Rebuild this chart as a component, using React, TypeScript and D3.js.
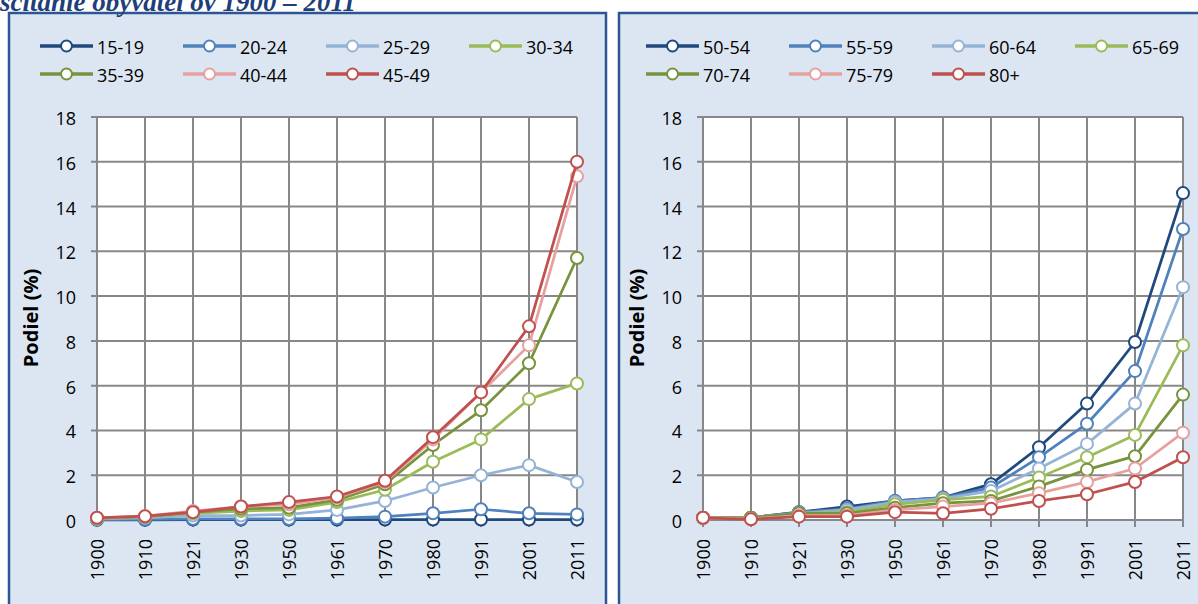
import React from "react";
import * as d3 from "d3";

const years = ["1900", "1910", "1921", "1930", "1950", "1961", "1970", "1980", "1991", "2001", "2011"];
const yTicks = [0, 2, 4, 6, 8, 10, 12, 14, 16, 18];

const leftNames = ["15-19", "20-24", "25-29", "30-34", "35-39", "40-44", "45-49"];
const s15_19 = [0.01, 0.01, 0.02, 0.02, 0.02, 0.02, 0.02, 0.02, 0.02, 0.02, 0.02];
const s20_24 = [0.02, 0.03, 0.05, 0.05, 0.05, 0.08, 0.15, 0.3, 0.48, 0.3, 0.25];
const s25_29 = [0.05, 0.1, 0.2, 0.2, 0.25, 0.45, 0.85, 1.45, 2.0, 2.45, 1.7];
const s30_34 = [0.07, 0.14, 0.3, 0.4, 0.45, 0.8, 1.35, 2.6, 3.6, 5.4, 6.1];
const s35_39 = [0.08, 0.15, 0.35, 0.5, 0.55, 0.9, 1.6, 3.35, 4.9, 7.0, 11.7];
const s40_44 = [0.1, 0.17, 0.4, 0.6, 0.7, 1.0, 1.7, 3.6, 5.7, 7.8, 15.35];
const s45_49 = [0.1, 0.17, 0.35, 0.6, 0.8, 1.05, 1.75, 3.7, 5.7, 8.65, 16.0];

const rightNames = ["50-54", "55-59", "60-64", "65-69", "70-74", "75-79", "80+"];
const s50_54 = [0.1, 0.1, 0.35, 0.6, 0.85, 1.0, 1.6, 3.25, 5.2, 7.95, 14.6];
const s55_59 = [0.1, 0.1, 0.35, 0.5, 0.85, 1.0, 1.45, 2.8, 4.3, 6.65, 13.0];
const s60_64 = [0.1, 0.1, 0.3, 0.45, 0.8, 0.95, 1.3, 2.3, 3.4, 5.2, 10.4];
const s65_69 = [0.1, 0.1, 0.3, 0.35, 0.7, 0.9, 1.05, 1.9, 2.8, 3.8, 7.8];
const s70_74 = [0.1, 0.1, 0.3, 0.3, 0.55, 0.75, 0.85, 1.5, 2.25, 2.85, 5.6];
const s75_79 = [0.1, 0.05, 0.2, 0.2, 0.45, 0.6, 0.75, 1.2, 1.7, 2.3, 3.9];
const s80 = [0.1, 0.03, 0.15, 0.15, 0.35, 0.3, 0.5, 0.85, 1.15, 1.7, 2.8];

const colors = ["#1F497D", "#4F81BD", "#95B3D7", "#9BBB59", "#77933C", "#E6A0A0", "#C0504D"];

const leftSeries = [s15_19, s20_24, s25_29, s30_34, s35_39, s40_44, s45_49];
const rightSeries = [s50_54, s55_59, s60_64, s65_69, s70_74, s75_79, s80];

const FONT = "'Open Sans', Lato, sans-serif";
const FS = 18;

function Panel({ offset, names, series, showRight }: { offset: number; names: string[]; series: number[][]; showRight: boolean }) {
  const x = d3.scalePoint<string>().domain(years).range([97 + offset, 577 + offset]);
  const y = d3.scaleLinear().domain([0, 18]).range([520, 117]);
  const line = d3
    .line<number>()
    .x((_, i) => x(years[i]) as number)
    .y((d) => y(d));
  const legendX = (i: number) => 40 + offset + (i % 4) * 143;
  const legendY = (i: number) => 46 + Math.floor(i / 4) * 28;
  const x0 = x(years[0]) as number;
  const x1 = x(years[years.length - 1]) as number;
  return (
    <g>
      <rect
        x={9 + offset + (showRight ? 4 : 0)}
        y={13}
        width={showRight ? 700 : 597}
        height={640}
        fill="#DCE6F2"
        stroke="#2C5595"
        strokeWidth={2.5}
      />
      {names.map((n, i) => (
        <g key={n}>
          <line x1={legendX(i)} x2={legendX(i) + 53} y1={legendY(i)} y2={legendY(i)} stroke={colors[i]} strokeWidth={3.5} />
          <circle cx={legendX(i) + 26.5} cy={legendY(i)} r={5.5} fill="#fff" stroke={colors[i]} strokeWidth={2} />
          <text x={legendX(i) + 57} y={legendY(i) + 1} dominantBaseline="central" fontFamily={FONT} fontSize={FS} fill="#000">
            {n}
          </text>
        </g>
      ))}
      <rect x={x0} y={y(18)} width={x1 - x0} height={y(0) - y(18)} fill="#fff" />
      {yTicks.map((t) => (
        <g key={t}>
          <line x1={x0 - 6} x2={x1} y1={y(t)} y2={y(t)} stroke="#878787" strokeWidth={2} />
          <text x={x0 - 21} y={y(t) + 1} textAnchor="end" dominantBaseline="central" fontFamily={FONT} fontSize={FS} fill="#000">
            {t}
          </text>
        </g>
      ))}
      {years.map((yr) => (
        <g key={yr}>
          <line x1={x(yr)} x2={x(yr)} y1={y(18)} y2={y(0) + 7} stroke="#878787" strokeWidth={2} />
          <text
            transform={`translate(${x(yr)},${539}) rotate(-90)`}
            textAnchor="end"
            dominantBaseline="central"
            fontFamily={FONT}
            fontSize={FS}
            fill="#000"
          >
            {yr}
          </text>
        </g>
      ))}
      <text
        transform={`translate(${30 + offset},${318}) rotate(-90)`}
        textAnchor="middle"
        dominantBaseline="central"
        fontFamily={FONT}
        fontSize={20}
        fontWeight="bold"
        fill="#000"
      >
        Podiel (%)
      </text>
      {series.map((s, i) => (
        <g key={i}>
          <path d={line(s) || ""} fill="none" stroke={colors[i]} strokeWidth={2.75} strokeLinejoin="round" />
          {s.map((v, j) => (
            <circle key={j} cx={x(years[j])} cy={y(v)} r={6} fill="#fff" stroke={colors[i]} strokeWidth={2} />
          ))}
        </g>
      ))}
    </g>
  );
}

export default function App() {
  return (
    <svg
      width={1198}
      height={604}
      style={{ position: "absolute", left: 0, top: 0, background: "#fff" }}
    >
      <rect x={0} y={0} width={1198} height={604} fill="#fff" />
      <Panel offset={0} names={leftNames} series={leftSeries} showRight={false} />
      <Panel offset={606} names={rightNames} series={rightSeries} showRight={true} />
      <text
        x={0}
        y={11}
        fontFamily="'Liberation Serif', 'Times New Roman', serif"
        fontStyle="italic"
        fontWeight="bold"
        fontSize={27}
        fill="#1F3F78"
      >
        sčítanie obyvateľov 1900 – 2011
      </text>
    </svg>
  );
}
